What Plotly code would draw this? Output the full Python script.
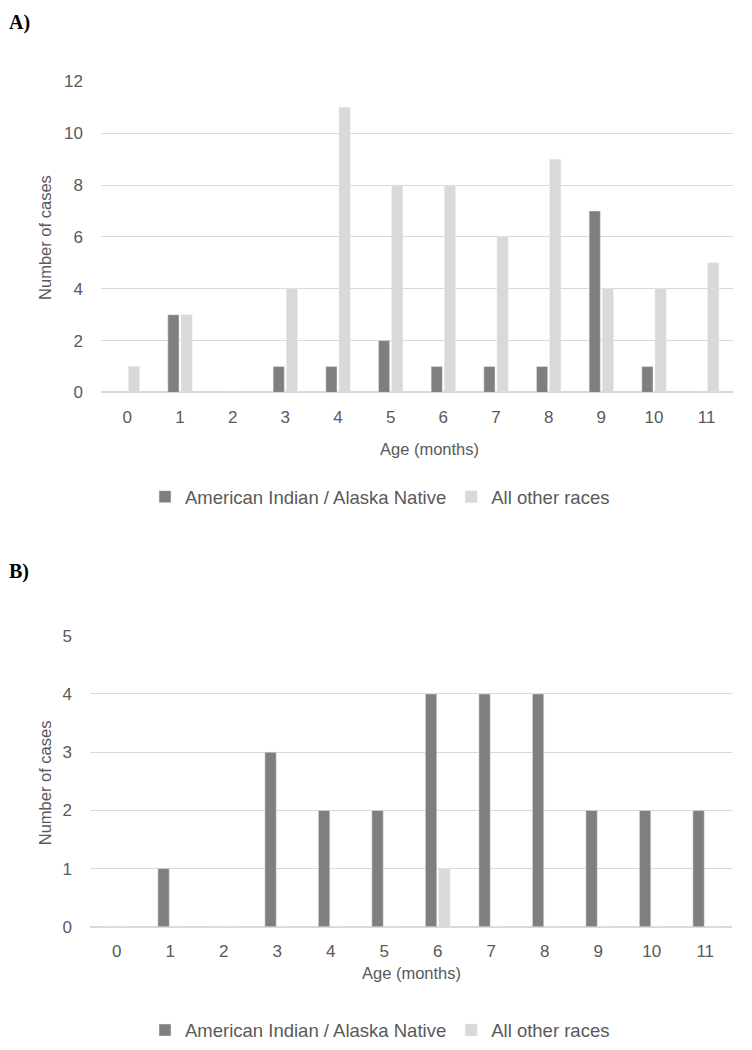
import plotly.graph_objects as go

ages = [str(i) for i in range(12)]
a_aian = [0, 3, 0, 1, 1, 2, 1, 1, 1, 7, 1, 0]
a_other = [1, 3, 0, 4, 11, 8, 8, 6, 9, 4, 4, 5]
b_aian = [0, 1, 0, 3, 2, 2, 4, 4, 4, 2, 2, 2]
b_other = [0, 0, 0, 0, 0, 0, 1, 0, 0, 0, 0, 0]
a_ticks = [0, 2, 4, 6, 8, 10, 12]
b_ticks = [0, 1, 2, 3, 4, 5]
names = ["American Indian / Alaska Native", "All other races"]

DARK = "#7f7f7f"
LIGHT = "#d9d9d9"
GRID = "#d9d9d9"
TXT = "#595959"
FONT = "Liberation Sans, Arial, sans-serif"
SERIF = "Liberation Serif, Times New Roman, serif"

W, H = 752, 1050
def py(p):
    # target pixel row -> paper fraction (empirical render correction)
    return 1 - ((p - 8.4) / 0.982) / H
def px(p):
    return p / W

fig = go.Figure()
fig.add_trace(go.Bar(x=ages, y=a_aian, name=names[0], marker_color=DARK, xaxis="x", yaxis="y", legend="legend"))
fig.add_trace(go.Bar(x=ages, y=a_other, name=names[1], marker_color=LIGHT, xaxis="x", yaxis="y", legend="legend"))
fig.add_trace(go.Bar(x=ages, y=b_aian, name=names[0], marker_color=DARK, xaxis="x2", yaxis="y2", legend="legend2"))
fig.add_trace(go.Bar(x=ages, y=b_other, name=names[1], marker_color=LIGHT, xaxis="x2", yaxis="y2", legend="legend2"))

xcommon = dict(type="category", showgrid=False, showline=True, linecolor=GRID, linewidth=1,
               ticks="", ticklabelstandoff=9, tickfont=dict(family=FONT, size=17, color=TXT))
ycommon = dict(showgrid=True, gridcolor=GRID, gridwidth=1, zeroline=True, zerolinecolor=GRID,
               showline=False, ticks="", ticklabelstandoff=17, tickfont=dict(family=FONT, size=17, color=TXT))

legcommon = dict(orientation="h", xanchor="center", yanchor="middle",
                 font=dict(family=FONT, size=18.5, color=TXT), bgcolor="rgba(0,0,0,0)",
                 traceorder="normal", itemwidth=30)

fig.update_layout(
    width=W, height=H,
    margin=dict(l=0, r=0, t=0, b=0),
    paper_bgcolor="white", plot_bgcolor="white",
    barmode="group", bargap=0.5, bargroupgap=0.15,
    xaxis=dict(domain=[px(101), px(733)], anchor="y", **xcommon),
    yaxis=dict(domain=[py(393), py(81)], range=[0, 12], tickvals=a_ticks, anchor="x", **ycommon),
    xaxis2=dict(domain=[px(90), px(732)], anchor="y2", **xcommon),
    yaxis2=dict(domain=[py(929), py(637)], range=[0, 5], tickvals=b_ticks, anchor="x2", **ycommon),
    legend=dict(x=px(380), y=py(498), **legcommon),
    legend2=dict(x=px(380), y=py(1033), **legcommon),
    annotations=[
        dict(text="<b>A)</b>", x=px(7), y=py(22), xref="paper", yref="paper", showarrow=False,
             xanchor="left", yanchor="middle", font=dict(family=SERIF, size=20, color="black")),
        dict(text="<b>B)</b>", x=px(7), y=py(573), xref="paper", yref="paper", showarrow=False,
             xanchor="left", yanchor="middle", font=dict(family=SERIF, size=20, color="black")),
        dict(text="Age (months)", x=px(429), y=py(450), xref="paper", yref="paper", showarrow=False,
             xanchor="center", yanchor="middle", font=dict(family=FONT, size=16.5, color=TXT)),
        dict(text="Age (months)", x=px(411), y=py(975), xref="paper", yref="paper", showarrow=False,
             xanchor="center", yanchor="middle", font=dict(family=FONT, size=16.5, color=TXT)),
        dict(text="Number of cases", x=px(45), y=py(238), xref="paper", yref="paper", showarrow=False,
             textangle=-90, xanchor="center", yanchor="middle", font=dict(family=FONT, size=16.5, color=TXT)),
        dict(text="Number of cases", x=px(45), y=py(785), xref="paper", yref="paper", showarrow=False,
             textangle=-90, xanchor="center", yanchor="middle", font=dict(family=FONT, size=16.5, color=TXT)),
    ],
)

fig.write_html("out.html", config={"displayModeBar": False},
               post_script="document.body.style.margin='0';document.body.style.overflow='hidden';")
